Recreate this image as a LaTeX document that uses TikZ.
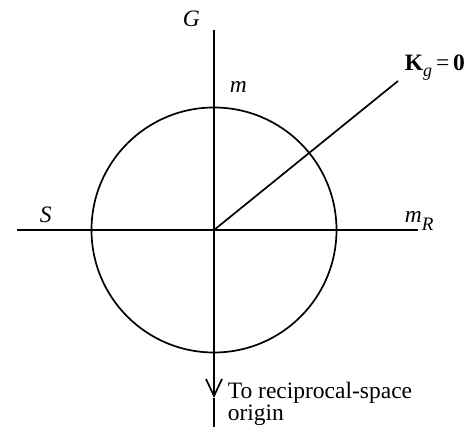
\documentclass[tikz,border=0pt]{standalone}
\usepackage{fontspec}
\setmainfont{Liberation Serif}
\usetikzlibrary{arrows.meta}

\begin{document}
\begin{tikzpicture}[x=1pt,y=-1pt,line width=1.7pt,
  lbl/.style={anchor=base west,inner sep=0pt,font=\fontsize{23.5}{22}\selectfont}]
\path[use as bounding box] (0,0) rectangle (472,427);
\coordinate (O) at (214,230);
\coordinate (Gtop) at (214,30);
\coordinate (Gbot) at (214,427);
\coordinate (tip) at (214,398);
\coordinate (Sleft) at (17,230);
\coordinate (mRright) at (418,230);
\coordinate (Kend) at (398,81);
\draw (O) circle (122.5);
\draw (Gtop) -- (O);
\draw (Sleft) -- (mRright);
\draw (O) -- (Kend);
\draw[-{Straight Barb[length=17pt,width=16pt]}] (O) -- (tip);
\draw (tip) -- (Gbot);
\node[lbl] (G) at (182,27) {\textit{G}};
\node[lbl] (m) at (229,93) {\textit{m}};
\node[lbl] (S) at (39,223) {\textit{S}};
\node[lbl] (mR) at (404,223) {\textit{m}\raisebox{-8pt}{\fontsize{19}{19}\selectfont\textit{R}}};
\node[lbl] (Kg) at (404,71) {\textbf{K}\raisebox{-6pt}{\fontsize{18}{18}\selectfont\textit{g}}\,=\,\textbf{0}};
\node[lbl,align=left] (origin) at (227,421) {To reciprocal-space\\origin};
\end{tikzpicture}
\end{document}
